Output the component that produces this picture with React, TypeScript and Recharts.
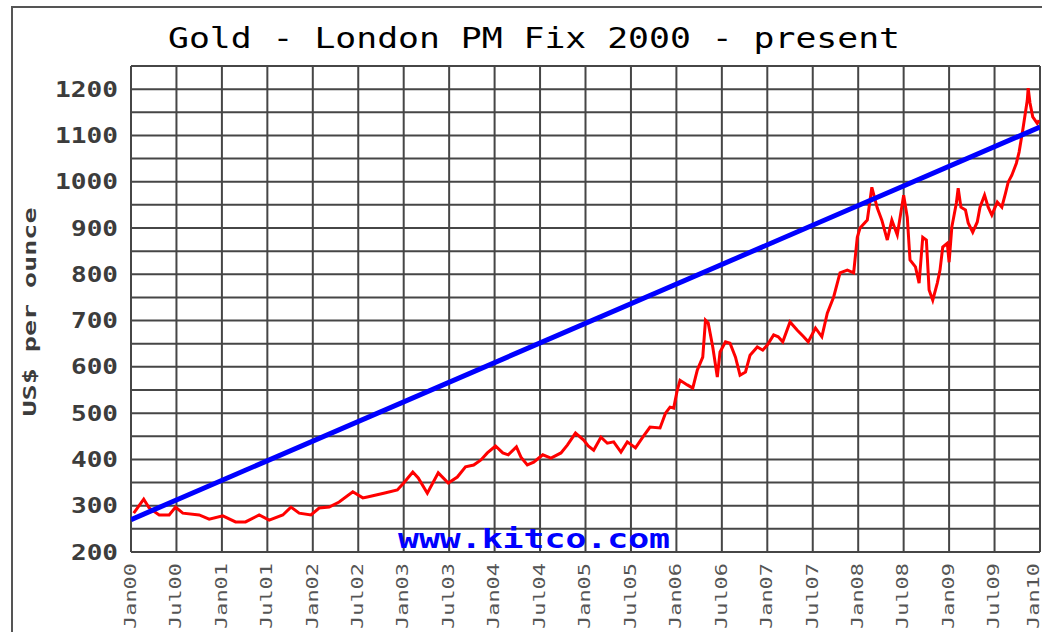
import { LineChart, Line, XAxis, YAxis, CartesianGrid } from 'recharts'

// ── Data ─────────────────────────────────────────────────
const goldYear = [
  2000.03, 2000.14, 2000.2, 2000.31, 2000.42, 2000.49, 2000.57, 2000.75, 2000.86, 2001.01,
  2001.15, 2001.26, 2001.41, 2001.52, 2001.67, 2001.76, 2001.85, 2001.98, 2002.07, 2002.18,
  2002.29, 2002.44, 2002.55, 2002.6, 2002.78, 2002.93, 2003.0, 2003.1, 2003.16, 2003.26,
  2003.38, 2003.49, 2003.59, 2003.68, 2003.77, 2003.85, 2003.92, 2004.01, 2004.09, 2004.15,
  2004.24, 2004.29, 2004.36, 2004.43, 2004.53, 2004.62, 2004.73, 2004.8, 2004.89, 2004.98,
  2005.03, 2005.09, 2005.17, 2005.24, 2005.31, 2005.39, 2005.46, 2005.55, 2005.63, 2005.71,
  2005.82, 2005.88, 2005.93, 2005.97, 2006.01, 2006.04, 2006.12, 2006.18, 2006.23, 2006.29,
  2006.32, 2006.35, 2006.4, 2006.45, 2006.48, 2006.54, 2006.59, 2006.65, 2006.7, 2006.76,
  2006.81, 2006.89, 2006.95, 2007.0, 2007.07, 2007.12, 2007.17, 2007.25, 2007.33, 2007.4,
  2007.45, 2007.53, 2007.6, 2007.66, 2007.73, 2007.8, 2007.88, 2007.95, 2007.99, 2008.02,
  2008.1, 2008.15, 2008.21, 2008.26, 2008.32, 2008.37, 2008.43, 2008.5, 2008.54, 2008.57,
  2008.63, 2008.67, 2008.71, 2008.75, 2008.78, 2008.82, 2008.87, 2008.9, 2008.93, 2008.98,
  2009.0, 2009.03, 2009.08, 2009.1, 2009.13, 2009.18, 2009.21, 2009.26, 2009.31, 2009.34,
  2009.39, 2009.43, 2009.47, 2009.53, 2009.58, 2009.62, 2009.65, 2009.69, 2009.74, 2009.77,
  2009.81, 2009.86, 2009.87, 2009.89, 2009.92, 2009.97, 2009.99,
]
const goldPrice = [
  284, 314, 295, 280, 280, 297, 284, 280, 271, 278,
  265, 265, 280, 269, 280, 297, 284, 280, 295, 297,
  308, 330, 317, 319, 327, 334, 349, 373, 360, 327,
  371, 349, 362, 384, 388, 399, 414, 429, 414, 410,
  427, 405, 388, 394, 410, 403, 414, 431, 457, 442,
  429, 420, 448, 435, 438, 416, 438, 425, 448, 470,
  468, 500, 513, 511, 550, 571, 561, 554, 593, 621,
  701, 695, 643, 578, 632, 654, 651, 621, 582, 589,
  625, 643, 636, 647, 669, 665, 654, 697, 679, 665,
  654, 684, 665, 716, 751, 803, 809, 803, 880, 900,
  917, 988, 943, 917, 874, 917, 885, 971, 923, 831,
  816, 781, 880, 874, 766, 744, 781, 809, 859, 867,
  826, 902, 954, 986, 945, 939, 911, 891, 913, 945,
  971, 945, 928, 956, 945, 975, 999, 1014, 1040, 1064,
  1111, 1176, 1202, 1170, 1140, 1126, 1133,
]

// straight trend line drawn over the price
const trendYear = [2000, 2010]
const trendPrice = [270, 1118]

const xTicks = [
  2000, 2000.5, 2001, 2001.5, 2002, 2002.5, 2003, 2003.5, 2004, 2004.5, 2005,
  2005.5, 2006, 2006.5, 2007, 2007.5, 2008, 2008.5, 2009, 2009.5, 2010,
]
const xLabels = [
  'Jan00', 'Jul00', 'Jan01', 'Jul01', 'Jan02', 'Jul02', 'Jan03', 'Jul03', 'Jan04', 'Jul04', 'Jan05',
  'Jul05', 'Jan06', 'Jul06', 'Jan07', 'Jul07', 'Jan08', 'Jul08', 'Jan09', 'Jul09', 'Jan10',
]
const yTicks = [
  200, 250, 300, 350, 400, 450, 500, 550, 600, 650, 700,
  750, 800, 850, 900, 950, 1000, 1050, 1100, 1150, 1200, 1250,
]

const gold = goldYear.map((t, i) => ({ t, v: goldPrice[i] }))
const trend = trendYear.map((t, i) => ({ t, v: trendPrice[i] }))

const MONO = '"DejaVu Sans Mono", monospace'
const GRID = '#464646'

function YTick({ y, payload }: any) {
  const v = payload.value
  if (v % 100 !== 0 || v > 1200) return <g />
  const s = String(v)
  return (
    <text x={118} y={y} dy="0.36em" textAnchor="end" fontFamily={MONO} fontWeight="bold"
      fontSize={21} fill="#3c3c3c" textLength={s.length * 16 - 1} lengthAdjust="spacingAndGlyphs">
      {s}
    </text>
  )
}

// labels run bottom-to-top, squeezed a little so they end at the bottom edge
function XTick({ x, payload }: any) {
  const idx = xTicks.indexOf(payload.value)
  const label = xLabels[idx] ?? ''
  const cx = Math.min(x - 1, 1033)
  return (
    <g transform={`translate(${cx},563) rotate(-90)`}>
      <text x={0} y={0} dy="0.36em" textAnchor="end" fontFamily={MONO} fontSize={16}
        fill="#555" textLength={66} lengthAdjust="spacingAndGlyphs">
        {label}
      </text>
    </g>
  )
}

export default function App() {
  return (
    <div style={{ position: 'absolute', left: 0, top: 0, width: 1042, height: 632, background: '#fff', overflow: 'hidden' }}>
      <div style={{ position: 'absolute', left: 11, top: 6, width: 1100, height: 700, borderLeft: '2px solid #555', borderTop: '2px solid #555' }} />
      <div style={{ position: 'absolute', left: 0, top: 0 }}>
        <LineChart width={1042} height={632} margin={{ top: 66, right: 2, bottom: 0, left: 0 }}>
          <CartesianGrid stroke={GRID} strokeWidth={2} />
          <XAxis type="number" dataKey="t" domain={[2000, 2010]} ticks={xTicks} interval={0}
            height={80} axisLine={false} tickLine={false} tick={<XTick />} allowDataOverflow />
          <YAxis type="number" dataKey="v" domain={[200, 1250]} ticks={yTicks} interval={0}
            width={131} axisLine={false} tickLine={false} tick={<YTick />} allowDataOverflow />
          <Line data={gold} dataKey="v" type="linear" stroke="#ff0000" strokeWidth={3}
            dot={false} isAnimationActive={false} />
          <Line data={trend} dataKey="v" type="linear" stroke="#0000ff" strokeWidth={5}
            dot={false} isAnimationActive={false} />
        </LineChart>
      </div>
      <svg width={1042} height={632} style={{ position: 'absolute', left: 0, top: 0, pointerEvents: 'none' }}>
        <text x={168} y={48} fontFamily={MONO} fontSize={28} fill="#000"
          textLength={732} lengthAdjust="spacingAndGlyphs">
          Gold - London PM Fix 2000 - present
        </text>
        <g transform="translate(36,312) rotate(-90)">
          <text x={0} y={0} textAnchor="middle" fontFamily={MONO} fontWeight="bold" fontSize={18}
            fill="#3c3c3c" textLength={209} lengthAdjust="spacingAndGlyphs">
            US$ per ounce
          </text>
        </g>
        <text x={398} y={548} fontFamily={MONO} fontWeight="bold" fontSize={27} fill="#0000ff"
          textLength={272} lengthAdjust="spacingAndGlyphs">
          www.kitco.com
        </text>
      </svg>
    </div>
  )
}
